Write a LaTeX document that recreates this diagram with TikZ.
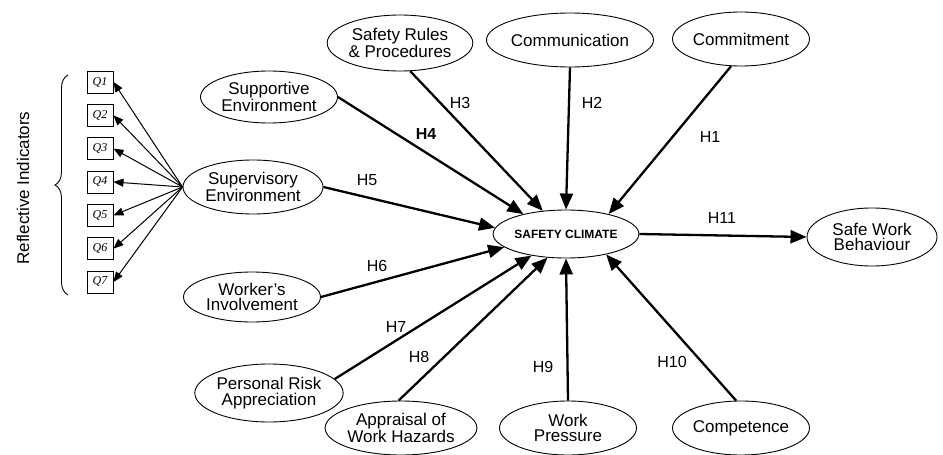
\documentclass[tikz,border=0pt]{standalone}
\usepackage{fontspec}
\setmainfont{Liberation Sans}
\newfontfamily\qfont{Liberation Serif}
\usetikzlibrary{arrows.meta,shapes.geometric,decorations.pathreplacing}

\begin{document}
\begin{tikzpicture}[x=1pt, y=-1pt, >={Triangle[length=16pt,width=13pt]}]
\tikzstyle{factor} = [draw, ellipse, line width=0.9pt, minimum width=137pt, minimum height=54pt, inner sep=0pt, align=center, font=\fontsize{17}{15.5}\selectfont]
\tikzstyle{qbox} = [draw, rectangle, line width=0.9pt, minimum width=26pt, minimum height=22pt, inner sep=0pt, font=\fontsize{12}{12}\qfont\itshape]
\tikzstyle{hyp} = [draw, ->, line width=2.3pt]
\tikzstyle{load} = [draw, line width=1pt, -{Triangle[length=10pt,width=8pt]}]
\tikzstyle{hlabel} = [inner sep=0pt, font=\fontsize{16}{16}\selectfont]

\useasboundingbox (0,0) rectangle (943,455);

% central construct and outcome
\node [factor, minimum width=122pt, minimum height=48pt, font=\fontsize{12}{12}\selectfont\bfseries] (clim) at (566,234) {SAFETY CLIMATE};
\node [factor, minimum width=130pt, minimum height=58pt] (swb) at (872,237) {Safe Work\\Behaviour};

% antecedents
\node [factor] (commit) at (741,39) {Commitment};
\node [factor] (comm) at (570,40) {Communication};
\node [factor, minimum height=56pt] (rules) at (400,43) {Safety Rules\\\& Procedures};
\node [factor, minimum height=52pt] (support) at (269,97) {Supportive\\Environment};
\node [factor, minimum width=140pt] (superv) at (253,187) {Supervisory\\Environment};
\node [factor, minimum height=50pt] (worker) at (252,297) {Worker's\\Involvement};
\node [factor, minimum height=58pt] (risk) at (269,393) {Personal Risk\\Appreciation};
\node [factor] (hazard) at (401,428) {Appraisal of\\Work Hazards};
\node [factor] (press) at (568,428) {Work\\Pressure};
\node [factor] (compet) at (741,428) {Competence};

% reflective indicators
\foreach \i in {1,...,7}
  \node [qbox] (q\i) at (100,{82+33.33*(\i-1)}) {Q\i};
\coordinate (brtop) at (68,75);
\coordinate (brbot) at (68,295);
\draw [decorate, decoration={brace, amplitude=13pt}, line width=0.9pt] (brbot) -- (brtop);
\node [hlabel, font=\fontsize{17}{17}\selectfont, rotate=90] (refl) at (23,188) {Reflective Indicators};

\foreach \i in {1,...,7}
  \path [load] (superv.west) -- (q\i.east);

% hypotheses
\path [hyp] (commit.250) -- (clim.25);
\path [hyp] (comm.south) -- (clim.north);
\path [hyp] (rules.290) -- (clim.135);
\path [hyp] (support.east) -- (clim.155);
\path [hyp] (superv.east) -- (clim.175);
\path [hyp] (worker.east) -- (clim.192);
\path [hyp] (risk.12) -- (clim.212);
\path [hyp] (hazard.95) -- (clim.232);
\path [hyp] (press.north) -- (clim.south);
\path [hyp] (compet.100) -- (clim.333);
\path [hyp] (clim.east) -- (swb.west);

\node [hlabel] (h1) at (710,137) {H1};
\node [hlabel] (h2) at (592,103) {H2};
\node [hlabel] (h3) at (460,103) {H3};
\node [hlabel, font=\fontsize{16}{16}\selectfont\bfseries] (h4) at (426,134) {H4};
\node [hlabel] (h5) at (367,180) {H5};
\node [hlabel] (h6) at (377,266) {H6};
\node [hlabel] (h7) at (396,327) {H7};
\node [hlabel] (h8) at (419,357) {H8};
\node [hlabel] (h9) at (543,367) {H9};
\node [hlabel] (h10) at (672,362) {H10};
\node [hlabel] (h11) at (722,218) {H11};
\end{tikzpicture}
\end{document}
